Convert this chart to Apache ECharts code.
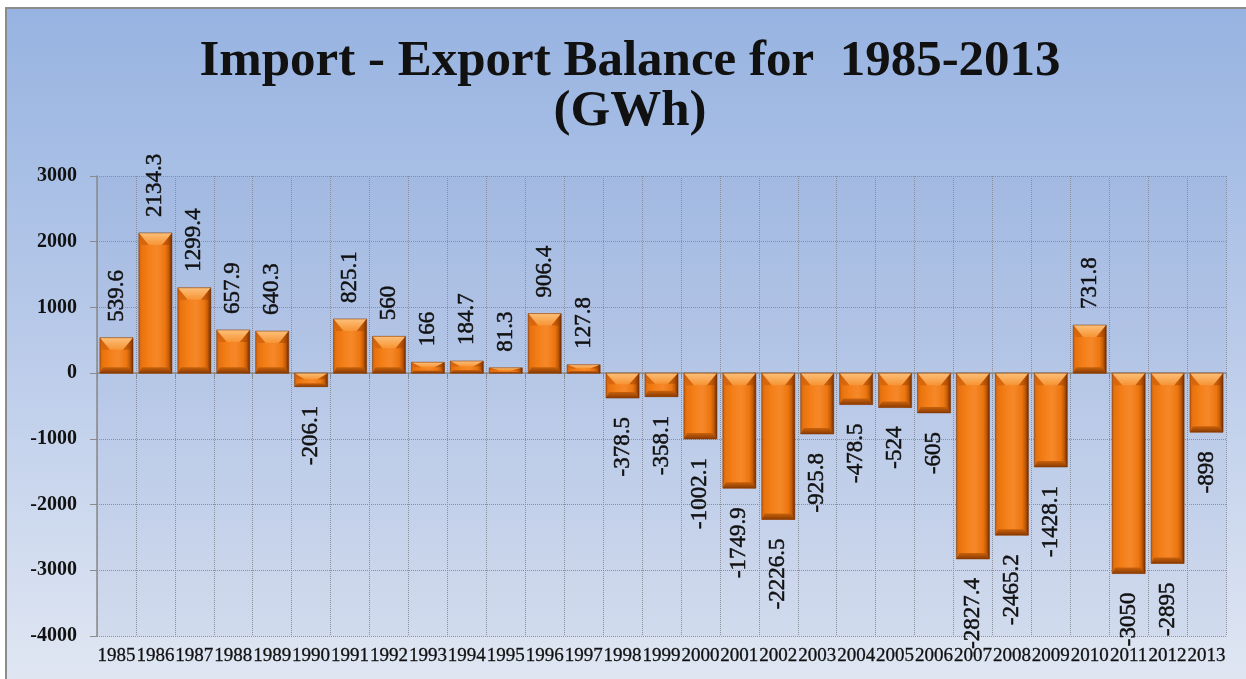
<!DOCTYPE html>
<html>
<head>
<meta charset="utf-8">
<script src="https://cdn.jsdelivr.net/npm/echarts@6/dist/echarts.min.js"></script>
<style>
html,body{margin:0;padding:0;background:#fff;}
#chart{width:1246px;height:679px;}
</style>
</head>
<body>
<div id="chart"></div>
<script>
const years = ['1985','1986','1987','1988','1989','1990','1991','1992','1993','1994','1995','1996','1997','1998','1999','2000','2001','2002','2003','2004','2005','2006','2007','2008','2009','2010','2011','2012','2013'];
const balance = [539.6, 2134.3, 1299.4, 657.9, 640.3, -206.1, 825.1, 560, 166, 184.7, 81.3, 906.4, 127.8, -378.5, -358.1, -1002.1, -1749.9, -2226.5, -925.8, -478.5, -524, -605, -2827.4, -2465.2, -1428.1, 731.8, -3050, -2895, -898];
const yTicks = { min: -4000, max: 3000, interval: 1000 };
const titleText = 'Import - Export Balance for  1985-2013\n(GWh)';

const chart = echarts.init(document.getElementById('chart'), null, {renderer: 'canvas'});

const lin = (x0, y0, x1, y1, stops) => new echarts.graphic.LinearGradient(x0, y0, x1, y1, stops.map(s => ({offset: s[0], color: s[1]})));

function renderBar(params, api) {
  const idx = api.value(0);
  const v = api.value(1);
  const p0 = api.coord([idx, 0]);
  const p1 = api.coord([idx, v]);
  const bw = api.size([1, 0])[0] * 0.85;
  const x = p0[0] - bw / 2;
  const top = Math.min(p0[1], p1[1]);
  const bot = Math.max(p0[1], p1[1]);
  const h = bot - top;
  const d = Math.min(12, h * 0.45);
  const b = bw * 0.3;
  const d2 = Math.min(6, h * 0.25);
  const children = [
    { type: 'rect', shape: {x: x, y: top, width: bw, height: h},
      style: { fill: lin(0, 0, 1, 0, [[0,'#c45c08'],[0.07,'#e8720e'],[0.3,'#f47f18'],[0.55,'#f6882a'],[0.8,'#ec7610'],[0.9,'#c65c06'],[1,'#6a2a00']]) } },
    { type: 'polygon', shape: {points: [[x, top], [x + bw, top], [x + bw - b, top + d], [x + b, top + d]]},
      style: { fill: lin(0, 0, 0, 1, [[0,'#fdc07a'],[1,'#f69434']]) } },
    { type: 'polygon', shape: {points: [[x, top], [x + b, top + d], [x + b * 0.25, top + d]]},
      style: { fill: 'rgba(200,90,10,0.55)' } },
    { type: 'polygon', shape: {points: [[x + bw, top], [x + bw - b, top + d], [x + bw - b * 0.25, top + d]]},
      style: { fill: 'rgba(150,60,0,0.45)' } },
    { type: 'polygon', shape: {points: [[x, bot], [x + bw, bot], [x + bw - 3, bot - d2], [x + 3, bot - d2]]},
      style: { fill: lin(0, 0, 0, 1, [[0,'#c8620c'],[1,'#8a3a02']]) } },
    { type: 'rect', shape: {x: x, y: top, width: bw, height: h},
      style: { fill: 'none', stroke: 'rgba(130,55,0,0.55)', lineWidth: 1 } }
  ];
  return { type: 'group', children: children };
}

const option = {
  backgroundColor: '#ffffff',
  animation: false,
  graphic: [{
    type: 'rect', z: -100, silent: true,
    shape: {x: 6, y: 8, width: 1260, height: 690},
    style: { fill: lin(0, 0, 0, 1, [[0,'#97b3e1'],[0.45,'#b7c9e9'],[1,'#e2e8f3']]), stroke: '#8c8c8c', lineWidth: 2 }
  }],
  title: {
    text: titleText,
    left: 630, top: 37, padding: 0,
    textAlign: 'center',
    textStyle: { fontFamily: 'Liberation Serif', fontWeight: 'bold', fontSize: 51, lineHeight: 50, color: '#111' }
  },
  grid: {
    left: 97, right: 20, top: 176, bottom: 43,
    show: true, borderWidth: 0,
    backgroundColor: 'rgba(90,120,185,0.07)'
  },
  xAxis: [{
    type: 'category', data: years, position: 'bottom',
    axisLine: { show: false, onZero: false },
    axisTick: { show: false },
    axisLabel: { interval: 0, margin: 11, fontFamily: 'Liberation Serif', fontSize: 19, color: '#111',
      textBorderColor: '#111', textBorderWidth: 0.3 },
    splitLine: { show: true, interval: 0, lineStyle: { type: 'dotted', color: '#8a8f99', width: 1 } }
  }, {
    type: 'category', data: years, position: 'bottom',
    axisLine: { show: true, onZero: true, lineStyle: { color: '#8a8a8a', width: 1.5 } },
    axisTick: { show: true, interval: 0, length: 5, lineStyle: { color: '#8a8a8a' } },
    axisLabel: { show: false },
    splitLine: { show: false }
  }],
  yAxis: {
    type: 'value', min: yTicks.min, max: yTicks.max, interval: yTicks.interval,
    axisLine: { show: true, lineStyle: { color: '#8a8a8a', width: 1.5 } },
    axisTick: { show: true, length: 7, lineStyle: { color: '#8a8a8a' } },
    axisLabel: { margin: 20, fontFamily: 'Liberation Serif', fontWeight: 'bold', fontSize: 20, color: '#111',
      formatter: v => String(v) },
    splitLine: { show: true, lineStyle: { type: 'dotted', color: '#8a8f99', width: 1 } }
  },
  series: [{
    type: 'bar', xAxisIndex: 0, silent: true, barWidth: '85%',
    itemStyle: { color: 'rgba(0,0,0,0)' },
    data: balance.map(v => ({
      value: v,
      label: {
        show: true, position: 'outside', distance: v >= 0 ? 16 : 19, rotate: 90,
        align: v >= 0 ? 'left' : 'right', verticalAlign: 'middle',
        fontFamily: 'Liberation Serif', fontSize: 23, color: '#111',
        textBorderColor: '#111', textBorderWidth: 0.5
      }
    }))
  }, {
    type: 'custom', xAxisIndex: 0, silent: true,
    renderItem: renderBar,
    encode: { x: 0, y: 1 },
    data: balance.map((v, i) => [i, v])
  }]
};
chart.setOption(option);
</script>
</body>
</html>
